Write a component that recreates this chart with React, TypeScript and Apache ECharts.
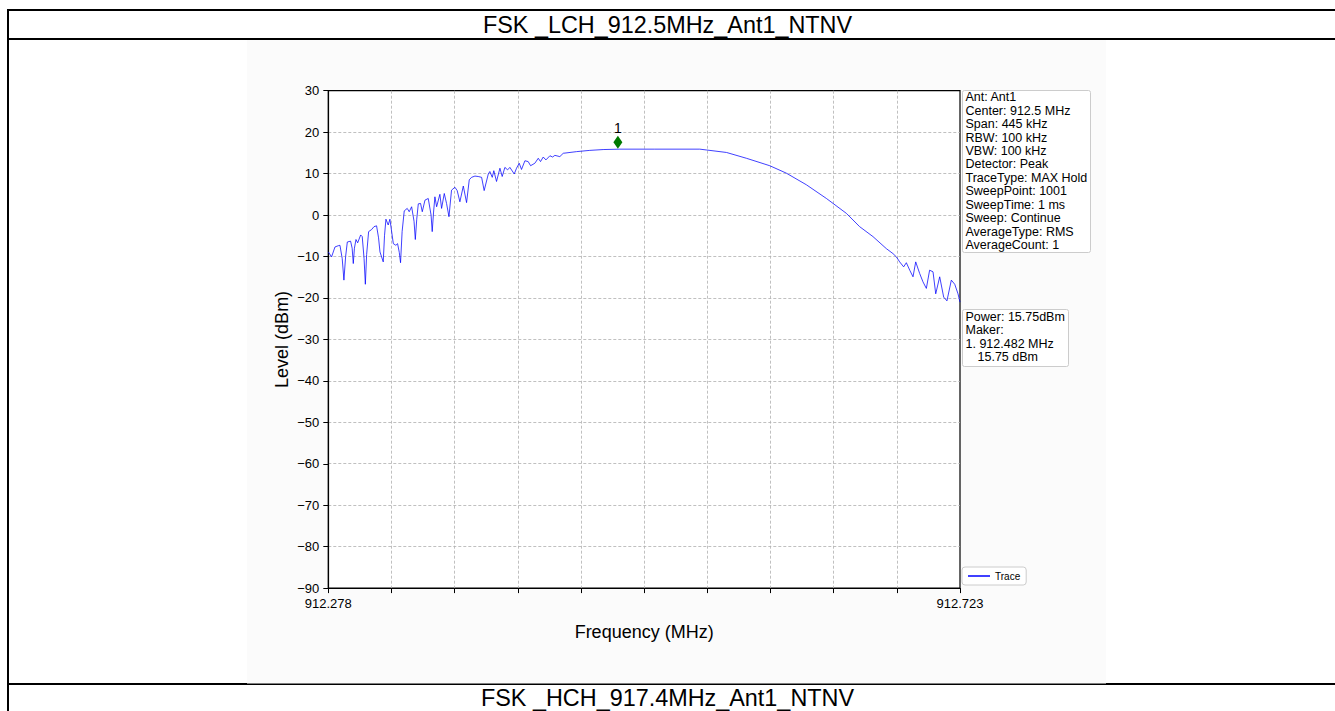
import React, { useEffect, useRef } from "react";
import * as echarts from "echarts";

const START_MHZ = 912.278;
const STOP_MHZ = 912.723;
const SPAN_KHZ = 445;
const X_TICK_KHZ = 44.5;
const Y_MIN = -90;
const Y_MAX = 30;
const Y_STEP = 10;

// Frequency offset from START_MHZ (kHz) and level (dBm)
const traceOffsetKHz = [
  0, 2.3, 4.7, 7.0, 8.2, 9.8, 11.0, 12.2, 13.4, 15.7, 16.8, 17.6, 18.4, 19.5, 20.7, 22.8, 23.9, 25.2, 26.1, 27.0, 28.4, 30.5,
  32.2, 34.0, 35.4, 36.4, 38.7, 39.6, 40.6, 42.2, 43.4, 45.8, 47.6, 48.8, 50.0, 50.9, 52.0, 53.5, 55.6, 57.0, 58.7,
  60.4, 61.3, 62.3, 63.4, 65.0, 66.2, 68.1, 70.4, 72.4, 73.2, 74.1, 75.1, 76.3, 78.6, 79.8, 81.7, 83.3, 85.0, 86.8,
  89.2, 90.8, 92.7, 95.1, 97.4, 99.3, 100.9, 103.3, 105.6, 108.0, 109.8, 112.7, 113.8, 115.5,
  116.6, 118.5, 120.9, 122.5, 124.4, 126.3, 127.9, 131.0, 132.6, 134.5, 136.1, 138.5, 140.8,
  142.5, 145.5, 147.9, 149.5, 151.4, 153.3, 156.1, 158.0, 159.6, 163.1, 165.5, 174.9, 184.2,
  193.6, 205.4, 230.0, 261.7, 266.4, 280.5, 294.5, 311.0, 322.7, 336.8, 350.9, 365.0, 374.3,
  383.7, 393.1, 397.8, 400.2, 402.5, 405.3, 407.2, 409.6, 411.9, 413.8, 416.6, 418.9, 421.3,
  423.6, 426.0, 427.9, 430.7, 433.5, 435.8, 438.9, 441.3, 443.6, 445.0,
];
const traceLevelDbm = [
  -8.9, -10.1, -7.7, -7.4, -7.3, -10.5, -15.7, -10.0, -6.5, -6.3, -8.0, -11.7, -8.0, -5.9, -6.7, -4.8, -5.2, -10.5, -16.7, -9.5, -4.0, -3.5,
  -2.8, -2.6, -5.5, -8.9, -11.3, -5.0, -1.0, -2.4, -1.0, -6.9, -7.3, -6.9, -9.0, -11.5, -4.0, 1.0, 1.6, 0.8, 2.0,
  -1.5, -5.9, -1.0, 2.7, 2.8, 0.8, 3.6, 4.0, 0.0, -4.0, 0.5, 4.4, 2.0, 5.0, 1.6, 5.2, 2.8, -0.4, 6.0,
  6.7, 5.9, 3.2, 7.0, 3.0, 8.5, 9.1, 9.4, 9.3, 9.1, 5.9, 9.9, 10.5, 9.1,
  10.7, 8.1, 11.3, 9.3, 11.5, 10.9, 11.5, 9.9, 11.3, 12.5, 11.0, 13.1, 12.9,
  11.9, 12.5, 13.7, 12.9, 14.0, 13.3, 14.3, 14.0, 14.4, 14.1, 14.9, 15.3, 15.6,
  15.8, 15.9, 15.9, 15.9, 15.7, 15.1, 13.7, 11.9, 10.1, 7.3, 4.0, 0.4, -2.8,
  -5.2, -8.1, -9.3, -10.1, -11.3, -12.5, -11.5, -13.3, -14.9, -11.3, -14.1, -16.1, -17.7,
  -13.3, -13.7, -19.0, -14.9, -19.8, -20.7, -15.7, -16.7, -19.0, -21.0,
];

const markerFreqMHz = 912.482;
const markerLevelDbm = 15.75;
const markerLabel = "1";

const titleTop = "FSK _LCH_912.5MHz_Ant1_NTNV";
const titleBottom = "FSK _HCH_917.4MHz_Ant1_NTNV";
const seriesName = "Trace";
const xAxisName = "Frequency (MHz)";
const yAxisName = "Level (dBm)";

const settingsLines = [
  "Ant: Ant1",
  "Center: 912.5 MHz",
  "Span: 445 kHz",
  "RBW: 100 kHz",
  "VBW: 100 kHz",
  "Detector: Peak",
  "TraceType: MAX Hold",
  "SweepPoint: 1001",
  "SweepTime: 1 ms",
  "Sweep: Continue",
  "AverageType: RMS",
  "AverageCount: 1",
];
const markerInfoLines = ["Power: 15.75dBm", "Maker:", "1. 912.482 MHz", "15.75 dBm"];
const markerInfoIndent = [0, 0, 0, 12];

const FONT = "Liberation Sans, Arial, Helvetica, sans-serif";

function boxTexts(lines: string[], x: number, y: number, lh: number, indent: number[] = []) {
  return lines.map((t, i) => ({
    type: "text",
    z: 11,
    x: x + (indent[i] || 0),
    y: y + i * lh + lh / 2,
    silent: true,
    style: {
      text: t,
      fill: "#000",
      fontSize: 12.5,
      fontFamily: FONT,
      align: "left",
      verticalAlign: "middle",
      textAlign: "left",
      textVerticalAlign: "middle",
    },
  }));
}

export default function App() {
  const ref = useRef<HTMLDivElement>(null);

  useEffect(() => {
    if (!ref.current) return;
    const chart = echarts.init(ref.current, undefined, { renderer: "svg" });
    const traceData = traceOffsetKHz.map((k, i) => [k, traceLevelDbm[i]]);
    const markerX = (markerFreqMHz - START_MHZ) * 1000;

    const lineStyle = { stroke: "#000", lineWidth: 2 };
    const gridLine = { color: "#b0b0b0", type: [3, 2], width: 0.8 };
    const option: any = {
      animation: false,
      backgroundColor: "#ffffff",
      textStyle: { fontFamily: FONT },
      grid: {
        left: 328.3,
        top: 90.7,
        width: 631.7,
        height: 497.4,
        show: true,
        backgroundColor: "#ffffff",
        borderColor: "#000",
        borderWidth: 1.2,
        z: -1,
      },
      legend: {
        data: [{ name: seriesName, icon: "rect" }],
        left: 962,
        top: 567,
        orient: "vertical",
        backgroundColor: "#ffffff",
        borderColor: "#cccccc",
        borderWidth: 1,
        borderRadius: 3,
        padding: [4, 6, 4, 6],
        itemWidth: 22,
        itemHeight: 1.5,
        textStyle: { fontSize: 10, color: "#000", fontFamily: FONT },
      },
      xAxis: {
        type: "value",
        min: 0,
        max: SPAN_KHZ,
        interval: X_TICK_KHZ,
        name: xAxisName,
        nameLocation: "middle",
        nameGap: 35,
        nameTextStyle: { fontSize: 18, color: "#000", fontFamily: FONT },
        axisLine: { show: true, onZero: false, lineStyle: { color: "#000", width: 1.2 } },
        axisTick: { show: true, length: 5, lineStyle: { color: "#000", width: 1 } },
        axisLabel: {
          color: "#000",
          fontSize: 13,
          margin: 9,
          fontFamily: FONT,
          showMinLabel: true,
          showMaxLabel: true,
          formatter: (v: number) =>
            Math.abs(v) < 1e-6
              ? START_MHZ.toFixed(3)
              : Math.abs(v - SPAN_KHZ) < 1e-6
              ? STOP_MHZ.toFixed(3)
              : "",
        },
        splitLine: { show: true, showMinLine: false, showMaxLine: false, lineStyle: gridLine },
      },
      yAxis: {
        type: "value",
        min: Y_MIN,
        max: Y_MAX,
        interval: Y_STEP,
        name: yAxisName,
        nameLocation: "middle",
        nameGap: 37,
        nameTextStyle: { fontSize: 18, color: "#000", fontFamily: FONT },
        axisLine: { show: true, onZero: false, lineStyle: { color: "#000", width: 1.2 } },
        axisTick: { show: true, length: 5, lineStyle: { color: "#000", width: 1 } },
        axisLabel: {
          color: "#000",
          fontSize: 13,
          margin: 9,
          fontFamily: FONT,
          formatter: (v: number) => String(v).replace("-", "\u2212"),
        },
        splitLine: { show: true, showMinLine: false, showMaxLine: false, lineStyle: gridLine },
      },
      series: [
        {
          name: seriesName,
          type: "line",
          data: traceData,
          symbol: "none",
          showSymbol: false,
          color: "#0000ff",
          itemStyle: { color: "#0000ff" },
          lineStyle: { color: "#0000ff", width: 1, opacity: 0.75 },
          z: 3,
        },
        {
          name: "Marker",
          type: "scatter",
          data: [[markerX, markerLevelDbm]],
          symbol: "diamond",
          symbolSize: [9, 13],
          symbolOffset: [0, -7.5],
          itemStyle: { color: "#007a00", opacity: 1 },
          label: {
            show: true,
            formatter: markerLabel,
            position: "inside",
            offset: [0, -14],
            color: "#000",
            fontSize: 14,
            fontFamily: FONT,
          },
          z: 4,
        },
      ],
      graphic: [
        // figure background
        {
          type: "rect",
          z: -10,
          silent: true,
          shape: { x: 247, y: 40, width: 859, height: 643.5 },
          style: { fill: "#fbfbfb" },
        },
        // table lines
        { type: "line", z: -20, silent: true, shape: { x1: 7, y1: 10, x2: 1335, y2: 10 }, style: lineStyle },
        { type: "line", z: -20, silent: true, shape: { x1: 7, y1: 39, x2: 1335, y2: 39 }, style: lineStyle },
        { type: "line", z: -20, silent: true, shape: { x1: 7, y1: 684, x2: 1335, y2: 684 }, style: lineStyle },
        { type: "line", z: -20, silent: true, shape: { x1: 8, y1: 9, x2: 8, y2: 711 }, style: lineStyle },
        {
          type: "text",
          z: 5,
          x: 667.5,
          y: 24.5,
          silent: true,
          style: {
            text: titleTop,
            fill: "#000",
            fontSize: 23.4,
            fontFamily: FONT,
            align: "center",
            verticalAlign: "middle",
            textAlign: "center",
            textVerticalAlign: "middle",
          },
        },
        {
          type: "text",
          z: 5,
          x: 667.5,
          y: 697.5,
          silent: true,
          style: {
            text: titleBottom,
            fill: "#000",
            fontSize: 23.4,
            fontFamily: FONT,
            align: "center",
            verticalAlign: "middle",
            textAlign: "center",
            textVerticalAlign: "middle",
          },
        },
        // settings box
        {
          type: "rect",
          z: 10,
          silent: true,
          shape: { x: 962.5, y: 90.5, width: 128, height: 162, r: 2 },
          style: { fill: "#ffffff", stroke: "#cccccc", lineWidth: 1 },
        },
        ...boxTexts(settingsLines, 965.5, 90.5, 13.45),
        // marker info box
        {
          type: "rect",
          z: 10,
          silent: true,
          shape: { x: 962.5, y: 309.5, width: 106, height: 57, r: 2 },
          style: { fill: "#ffffff", stroke: "#cccccc", lineWidth: 1 },
        },
        ...boxTexts(markerInfoLines, 965.5, 310, 13.45, markerInfoIndent),
      ],
    };
    chart.setOption(option);
    return () => chart.dispose();
  }, []);

  return (
    <div
      ref={ref}
      style={{ position: "fixed", left: 0, top: 0, width: 1335, height: 711, background: "#fff" }}
    />
  );
}
